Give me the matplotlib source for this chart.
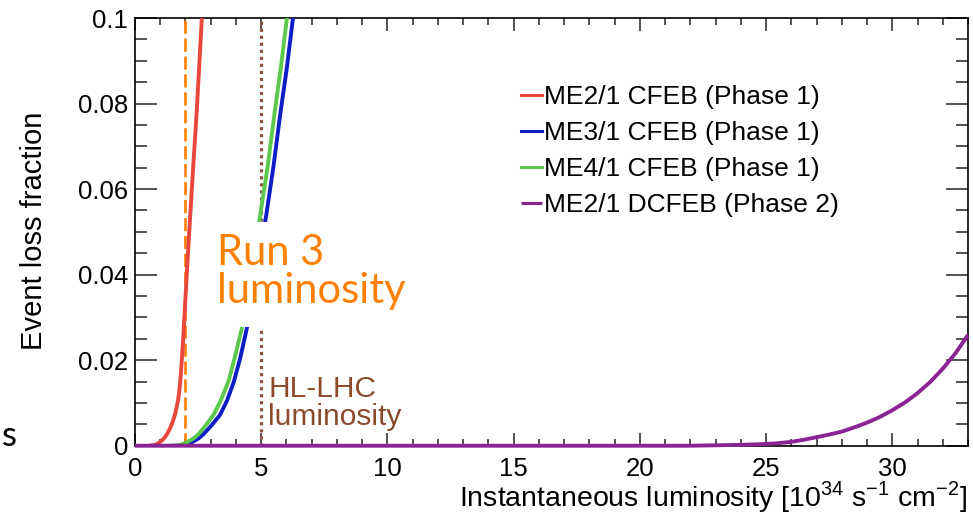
import matplotlib
matplotlib.use("Agg")
import matplotlib.pyplot as plt
from matplotlib.patches import Rectangle
from matplotlib.ticker import MultipleLocator

# event loss vs. instantaneous luminosity, per board type
me21_cfeb_x = [0.6, 0.8, 0.9, 1.0, 1.1, 1.2, 1.3, 1.4, 1.5, 1.6, 1.7, 1.75, 1.8, 1.85,
               1.9, 2.0, 2.1, 2.27, 2.45, 2.65]
me21_cfeb_y = [0.0, 0.0002, 0.0005, 0.0009, 0.0014, 0.0021, 0.0030, 0.0042, 0.0057,
               0.0076, 0.0104, 0.0124, 0.0154, 0.0195, 0.0240, 0.0345, 0.0450, 0.0617,
               0.0785, 0.1]

me31_cfeb_x = [1.6, 1.8, 1.98, 2.25, 2.52, 2.73, 2.95, 3.15, 3.37, 3.65, 3.92, 4.17,
               4.43, 4.8, 5.2, 5.48, 5.75, 6.02, 6.26]
me31_cfeb_y = [0.0, 0.00005, 0.0002, 0.0008, 0.0017, 0.0028, 0.0042, 0.0056, 0.0072,
               0.0106, 0.0150, 0.0205, 0.0274, 0.0395, 0.0539, 0.0650, 0.0773, 0.0885, 0.1]

me41_cfeb_x = [1.3, 1.6, 1.8, 2.05, 2.32, 2.5, 2.7, 2.9, 3.11, 3.4, 3.70, 3.95, 4.23,
               4.6, 4.96, 5.25, 5.52, 5.78, 6.02]
me41_cfeb_y = [0.0, 0.00005, 0.0002, 0.0008, 0.0017, 0.0026, 0.0040, 0.0055, 0.0072,
               0.0106, 0.0150, 0.0205, 0.0274, 0.0400, 0.0539, 0.0650, 0.0773, 0.0885, 0.1]

me21_dcfeb_x = [0, 22, 23, 24, 25, 25.5, 26, 26.5, 27, 27.5, 28, 28.5, 29, 29.5, 30,
                30.5, 31, 31.5, 32, 32.5, 33]
me21_dcfeb_y = [0, 0, 0.0001, 0.0002, 0.0004, 0.0006, 0.0009, 0.0014, 0.0020, 0.0026,
                0.0033, 0.0043, 0.0054, 0.0067, 0.0083, 0.0101, 0.0123, 0.0149, 0.0180,
                0.0216, 0.0259]

series_labels = ["ME2/1 CFEB (Phase 1)", "ME3/1 CFEB (Phase 1)",
                 "ME4/1 CFEB (Phase 1)", "ME2/1 DCFEB (Phase 2)"]
series_colors = ["#e8473c", "#0c1ec4", "#5cc94c", "#8a2494"]

run3_lumi = 2.0
hllhc_lumi = 5.0

x_ticks = [0, 5, 10, 15, 20, 25, 30]
y_ticks = [0, 0.02, 0.04, 0.06, 0.08, 0.1]
y_tick_labels = ["0", "0.02", "0.04", "0.06", "0.08", "0.1"]

plt.rcParams["font.family"] = ["Liberation Sans", "DejaVu Sans"]
plt.rcParams["mathtext.fontset"] = "custom"
plt.rcParams["mathtext.rm"] = "Liberation Sans"

fig = plt.figure(figsize=(9.73, 5.24), dpi=100)
ax = fig.add_axes([0.1387, 0.1494, 0.8562, 0.8162])

curves = [(me21_cfeb_x, me21_cfeb_y), (me31_cfeb_x, me31_cfeb_y),
          (me41_cfeb_x, me41_cfeb_y)]
for (xs, ys), lab, col in zip(curves, series_labels[:3], series_colors[:3]):
    ax.plot(xs, ys, color=col, lw=2.8, label=lab, zorder=3)
ax.plot(me21_dcfeb_x, me21_dcfeb_y, color=series_colors[3], lw=2.8,
        label=series_labels[3], zorder=4, clip_on=False, solid_capstyle="butt")

ax.axvline(run3_lumi, color="#ff8000", lw=1.9, ls=(0, (5.0, 1.8)), zorder=2)
ax.axvline(hllhc_lumi, color="#8b5440", lw=2.3, ls=(0, (1.0, 1.2)), zorder=2)

# white patch behind the Run 3 annotation
ax.add_patch(Rectangle((3.06, 0.0278), 8.2, 0.0245, facecolor="white",
                       edgecolor="none", zorder=5))
ax.text(3.25, 0.0423, "Run 3", color="#ff8000", fontsize=30, family="Lato",
        ha="left", va="baseline", zorder=6)
ax.text(3.25, 0.0334, "luminosity", color="#ff8000", fontsize=30, family="Lato",
        ha="left", va="baseline", zorder=6)

ax.text(5.28, 0.0114, "HL-LHC", color="#8c4a2b", fontsize=21.5,
        ha="left", va="baseline", zorder=6)
ax.text(5.28, 0.0048, "luminosity", color="#8c4a2b", fontsize=21.5,
        ha="left", va="baseline", zorder=6)

ax.set_xlim(0, 33)
ax.set_ylim(0, 0.1)
ax.set_xticks(x_ticks)
ax.set_xticklabels([str(v) for v in x_ticks])
ax.set_yticks(y_ticks)
ax.set_yticklabels(y_tick_labels)
ax.xaxis.set_minor_locator(MultipleLocator(1))
ax.yaxis.set_minor_locator(MultipleLocator(0.005))

ax.tick_params(axis="both", which="both", direction="in", top=True, right=True,
               width=1.1, color="#222222", labelsize=18.5)
ax.tick_params(axis="x", which="major", length=9.4, pad=8)
ax.tick_params(axis="x", which="minor", length=5)
ax.tick_params(axis="y", which="major", length=15.6, pad=5)
ax.tick_params(axis="y", which="minor", length=8.4)
for sp in ax.spines.values():
    sp.set_linewidth(1.2)

fig.text(34 / 973, 1 - 231 / 524, "Event loss fraction", rotation=90,
         ha="center", va="center", fontsize=21)
fig.text(967 / 973, 1 - 506 / 524,
         r"Instantaneous luminosity [10$^{34}$ s$^{-1}$ cm$^{-2}$]",
         ha="right", va="baseline", fontsize=20.5)
fig.text(2 / 973, 1 - 446 / 524, "s", family="Lato", fontsize=25,
         ha="left", va="baseline")

leg = ax.legend(loc="upper left", bbox_to_anchor=(521 / 973, 1 - 85 / 524),
                bbox_transform=fig.transFigure, frameon=False, fontsize=19,
                handlelength=0.78, handletextpad=0.1, labelspacing=0.46,
                borderpad=0, borderaxespad=0)
for line in leg.get_lines():
    line.set_linewidth(2.2)

fig.savefig("out.png", dpi=100)
